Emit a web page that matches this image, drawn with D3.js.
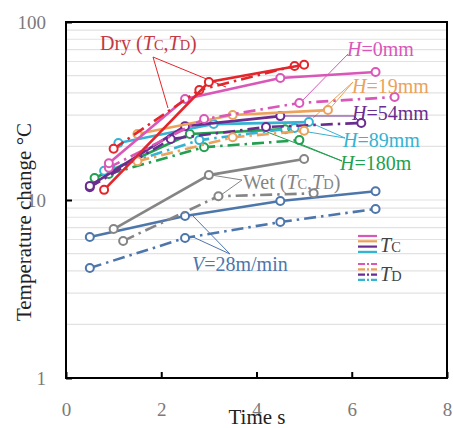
<!DOCTYPE html>
<html>
<head>
<meta charset="utf-8">
<script src="https://cdn.jsdelivr.net/npm/d3@7"></script>
<style>
  body { margin: 0; background: #fff; }
  svg text { font-family: "Liberation Serif", "Times New Roman", serif !important; }
</style>
</head>
<body>
<div id="plot"></div>
<script>
// values: [time s, temperature change °C]
var dryTC  = [[0.8, 11.4], [3.0, 46], [5.0, 57.5]];
var dryTD  = [[1.0, 19.4], [2.8, 41.5], [4.8, 56.6]];
var h0TC   = [[0.9, 16.1], [2.5, 36.9], [4.5, 48.5], [6.5, 52.4]];
var h0TD   = [[0.9, 15.2], [2.9, 28.5], [4.9, 35.1], [6.9, 37.9]];
var h19TC  = [[1.5, 23.5], [3.5, 30], [5.5, 32]];
var h19TD  = [[1.5, 16.5], [3.5, 22.5], [5.0, 24.5]];
var h54TC  = [[0.5, 12], [2.5, 26], [4.5, 29.6]];
var h54TD  = [[0.5, 11.8], [2.2, 22], [4.2, 25.7], [6.2, 27.1]];
var h89TC  = [[1.1, 20.9], [3.1, 26.7], [5.1, 27.4]];
var h89TD  = [[0.8, 14.6], [2.8, 21.7], [4.8, 25.4]];
var h180TC = [[0.6, 13.3], [2.6, 23.5], [4.6, 25]];
var h180TD = [[0.9, 14], [2.9, 19.8], [4.9, 21.7]];
var wetTC  = [[1.0, 6.87], [3.0, 13.8], [5.0, 17.0]];
var wetTD  = [[1.2, 5.89], [3.2, 10.5], [5.2, 10.9]];
var v28TC  = [[0.5, 6.2], [2.5, 8.13], [4.5, 9.87], [6.5, 11.2]];
var v28TD  = [[0.5, 4.15], [2.5, 6.12], [4.5, 7.52], [6.5, 8.9]];

var xTicks = [0, 2, 4, 6, 8];
var yTicks = [1, 10, 100];

var red = "#e3262b", pink = "#d957b8", orange = "#eba25a", purple = "#6a2c8e",
    cyan = "#35b3d2", green = "#22a050", gray = "#858585", blue = "#4d76ab";

var series = [
  {d: v28TD, c: blue, dash: true}, {d: v28TC, c: blue},
  {d: wetTD, c: gray, dash: true}, {d: wetTC, c: gray},
  {d: h180TD, c: green, dash: true}, {d: h180TC, c: green},
  {d: h89TD, c: cyan, dash: true}, {d: h89TC, c: cyan},
  {d: h54TD, c: purple, dash: true}, {d: h54TC, c: purple},
  {d: h19TD, c: orange, dash: true}, {d: h19TC, c: orange},
  {d: h0TD, c: pink, dash: true}, {d: h0TC, c: pink},
  {d: dryTD, c: red, dash: true}, {d: dryTC, c: red}
];

var W = 453, H = 428;
var svg = d3.select("#plot").append("svg")
    .attr("width", W).attr("height", H);

var x = d3.scaleLinear().domain([0, 8]).range([66, 447]);
var y = d3.scaleLog().domain([1, 100]).range([378, 22]);

// light grid at the minor log values
var grid = [];
[1, 10].forEach(function(b) { for (var k = 2; k <= 10; k++) grid.push(b * k); });
svg.append("g").selectAll("line").data(grid).enter().append("line")
    .attr("x1", x(0)).attr("x2", x(8))
    .attr("y1", function(d) { return y(d); })
    .attr("y2", function(d) { return y(d); })
    .style("stroke", "#e2e2e2").style("stroke-width", 1.2);

// axes with inward ticks
var gx = svg.append("g").attr("transform", "translate(0," + y(1) + ")")
    .call(d3.axisBottom(x).tickValues(xTicks).tickSize(-6).tickPadding(25));
var gy = svg.append("g").attr("transform", "translate(" + x(0) + ",0)")
    .call(d3.axisLeft(y).tickValues(yTicks).tickFormat(d3.format("d")).tickSize(-6).tickPadding(20));
[gx, gy].forEach(function(g) {
  g.attr("font-family", null).attr("font-size", null);
  g.select(".domain").remove();
  g.selectAll(".tick line").style("stroke", "#000").style("stroke-width", 2);
  g.selectAll(".tick text").style("font-size", "19px").style("fill", "#7a7a7a");
});

// leader lines for the labels
var leaders = [
  [red, 153, 57, 168, 108], [red, 153, 57, 226, 87],
  [pink, 348, 54, 300, 103],
  [orange, 353, 82, 313, 118], [orange, 353, 82, 328, 111],
  [purple, 354, 116, 282, 116], [purple, 354, 116, 360, 122],
  [cyan, 345, 138, 309, 122], [cyan, 345, 138, 296, 130],
  [green, 342, 161, 298, 143], [green, 342, 161, 262, 130],
  [gray, 242, 180, 211, 175], [gray, 242, 180, 221, 195],
  [blue, 230, 254, 193, 216], [blue, 230, 254, 193, 237]
];
svg.append("g").selectAll("line").data(leaders).enter().append("line")
    .attr("x1", function(d) { return d[1]; }).attr("y1", function(d) { return d[2]; })
    .attr("x2", function(d) { return d[3]; }).attr("y2", function(d) { return d[4]; })
    .style("stroke", function(d) { return d[0]; }).style("stroke-width", 1);

var line = d3.line()
    .x(function(d) { return x(d[0]); })
    .y(function(d) { return y(d[1]); });

var gs = svg.append("g").selectAll("g").data(series).enter().append("g");
gs.append("path")
    .attr("d", function(s) { return line(s.d); })
    .style("fill", "none")
    .style("stroke", function(s) { return s.c; })
    .style("stroke-width", 2.6)
    .style("stroke-dasharray", function(s) { return s.dash ? "12,5,2.5,5" : null; });
gs.selectAll("circle").data(function(s) { return s.d.map(function(p) { return {p: p, c: s.c}; }); })
  .enter().append("circle")
    .attr("cx", function(d) { return x(d.p[0]); })
    .attr("cy", function(d) { return y(d.p[1]); })
    .attr("r", 4)
    .style("fill", "#fff")
    .style("stroke", function(d) { return d.c; })
    .style("stroke-width", 2);

// frame
svg.append("rect")
    .attr("x", x(0)).attr("y", y(100))
    .attr("width", x(8) - x(0)).attr("height", y(1) - y(100))
    .style("fill", "none").style("stroke", "#000").style("stroke-width", 2);

// text labels
function label(px, py, color, parts, size) {
  var t = svg.append("text").attr("x", px).attr("y", py)
      .style("fill", color).style("font-size", (size || 20) + "px");
  parts.forEach(function(p) {
    var s = t.append("tspan").text(p[0]);
    if (p[1] == "i") s.style("font-style", "italic");
    if (p[1] == "sub") s.style("font-size", "0.72em");
  });
  return t;
}
label(100, 50, "#c23a44", [["Dry ("], ["T", "i"], ["C", "sub"], [","], ["T", "i"], ["D", "sub"], [")"]]);
label(347, 56, pink, [["H", "i"], ["=0mm"]]);
label(352, 93, orange, [["H", "i"], ["=19mm"]]);
label(352, 120, purple, [["H", "i"], ["=54mm"]]);
label(343, 147, cyan, [["H", "i"], ["=89mm"]]);
label(340, 170, green, [["H", "i"], ["=180m"]]);
label(243, 189, gray, [["Wet ("], ["T", "i"], ["C", "sub"], [","], ["T", "i"], ["D", "sub"], [")"]]);
label(192, 271, blue, [["V", "i"], ["=28m/min"]]);

// legend
var legColors = [pink, orange, purple, cyan];
var leg = svg.append("g");
legColors.forEach(function(c, i) {
  leg.append("line").attr("x1", 358).attr("x2", 377)
      .attr("y1", 236 + i * 5.3).attr("y2", 236 + i * 5.3)
      .style("stroke", c).style("stroke-width", 2.2);
  leg.append("line").attr("x1", 358).attr("x2", 377)
      .attr("y1", 264 + i * 5.3).attr("y2", 264 + i * 5.3)
      .style("stroke", c).style("stroke-width", 2.2)
      .style("stroke-dasharray", "7,2,2,2,6");
});
label(380, 252, "#444", [["T", "i"], ["C", "sub"]]);
label(380, 281, "#444", [["T", "i"], ["D", "sub"]]);

// axis titles
svg.append("text")
    .attr("text-anchor", "middle")
    .attr("x", 257).attr("y", 424)
    .style("font-size", "21px").style("fill", "#222")
    .text("Time s");
svg.append("text")
    .attr("text-anchor", "middle")
    .attr("transform", "translate(31,222) rotate(-90)")
    .style("font-size", "21px").style("fill", "#222")
    .text("Temperature change °C");
</script>
</body>
</html>
